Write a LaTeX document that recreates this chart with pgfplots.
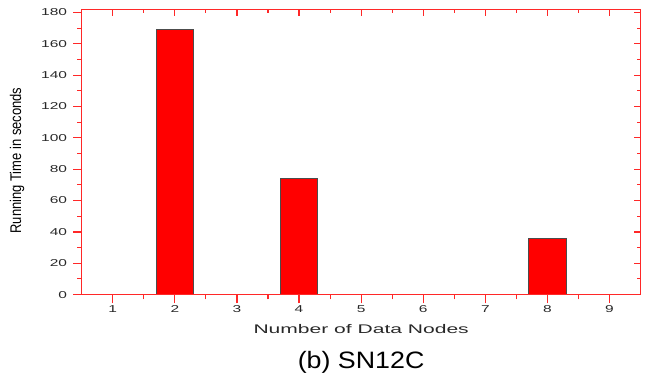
\documentclass[border=0pt]{standalone}
\usepackage{pgfplots}
\pgfplotsset{compat=1.18}
\usepackage{fontspec}
\setmainfont{Liberation Sans}
\newfontfamily\tickfont{Liberation Sans}[FakeStretch=1.55]
\newfontfamily\xlabfont{Liberation Sans}[FakeStretch=1.68]
\newfontfamily\ylabfont{Liberation Sans}[FakeStretch=0.84]
\newfontfamily\titlefont{Liberation Sans}[FakeStretch=1.13]
\definecolor{axred}{RGB}{255,40,40}
\definecolor{barred}{RGB}{255,0,0}
\definecolor{txt}{RGB}{40,40,40}
\begin{document}
\begin{tikzpicture}
\useasboundingbox (-61.3pt,-62.5pt) rectangle (423.3pt,221pt);
\pgfplotsset{
  common/.style={
    at={(0,0)}, anchor=south west,
    scale only axis, width=419.25pt, height=214pt,
    xmin=0.5, xmax=9.5, ymin=0, ymax=182,
    xtick={1,...,9}, ytick={0,20,...,180},
    minor x tick num=1, minor y tick num=1,
    axis line style={axred, line width=1pt},
    every tick/.style={axred, line width=0.9pt},
    every minor tick/.style={axred, line width=0.8pt},
  }
}
\begin{axis}[common,
  xtick pos=left, ytick pos=left, tick align=outside,
  major tick length=6.5pt, minor tick length=3.5pt,
  /pgf/number format/assume math mode=true,
  tick label style={font=\tickfont\fontsize{7.5}{9}\selectfont, text=txt},
  xticklabel style={yshift=1.5pt},
  yticklabel style={xshift=-1pt},
  xlabel={\xlabfont\fontsize{9.4}{11}\selectfont Number of Data Nodes},
  xlabel style={at={(axis description cs:0.5,-0.1355)}, anchor=base, text=txt},
  ylabel={\ylabfont\fontsize{11.6}{13}\selectfont Running Time in seconds},
  ylabel style={at={(axis description cs:-0.1157,0.470)}, anchor=center, text=black},
  ybar, bar width=0.6,
]
\addplot[fill=barred, draw=black!70, line width=0.6pt] coordinates {(2,169) (4,74) (8,36)};
\end{axis}
\begin{axis}[common,
  xtick pos=right, ytick pos=right, tick align=inside,
  major tick length=5pt, minor tick length=3pt,
  xticklabels={}, yticklabels={},
]
\end{axis}
\node[anchor=base, text=black] at (209.6pt,-55.2pt) {\titlefont\fontsize{17.8}{20}\selectfont (b) SN12C};
\end{tikzpicture}
\end{document}
